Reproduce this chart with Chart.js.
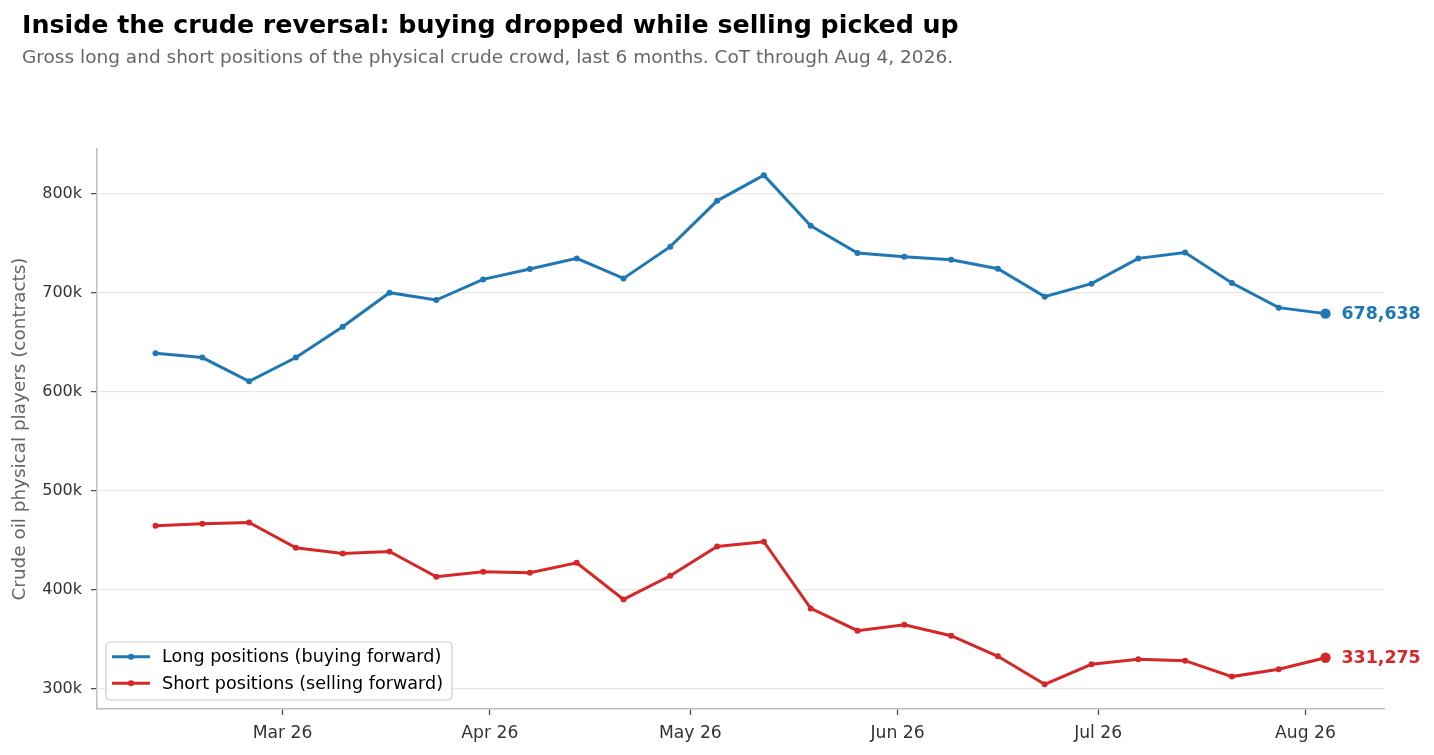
<!DOCTYPE html>
<html lang="en">
<head>
    <meta charset="UTF-8">
    <meta name="viewport" content="width=device-width, initial-scale=1.0">
    <title>Inside the crude reversal</title>
    <script src="https://cdn.jsdelivr.net/npm/chart.js"></script>
    <style>
        html, body { margin: 0; padding: 0; background: #fff; }
        body { width: 1434px; height: 755px; position: relative; overflow: hidden; font-family: "DejaVu Sans", sans-serif; }
        #wrap { position: absolute; left: 0; top: 0; width: 1434px; height: 755px; }
        #title { position: absolute; left: 22px; top: 12px; font-size: 25.3px; line-height: 25px; font-weight: bold; color: #000; white-space: nowrap; z-index: 2; }
        #subtitle { position: absolute; left: 22px; top: 48px; font-size: 18.5px; line-height: 18px; color: #666; white-space: nowrap; z-index: 2; }
    </style>
</head>
<body>
    <div id="title">Inside the crude reversal: buying dropped while selling picked up</div>
    <div id="subtitle">Gross long and short positions of the physical crude crowd, last 6 months. CoT through Aug 4, 2026.</div>
    <div id="wrap"><canvas id="cot-chart"></canvas></div>

    <script>
        // weekly CoT report dates
        const weekDates = ['2026-02-10', '2026-02-17', '2026-02-24', '2026-03-03', '2026-03-10', '2026-03-17',
            '2026-03-24', '2026-03-31', '2026-04-07', '2026-04-14', '2026-04-21', '2026-04-28', '2026-05-05',
            '2026-05-12', '2026-05-19', '2026-05-26', '2026-06-02', '2026-06-09', '2026-06-16', '2026-06-23',
            '2026-06-30', '2026-07-07', '2026-07-14', '2026-07-21', '2026-07-28', '2026-08-04'];

        const longPositions = [638600, 634300, 610400, 634300, 665500, 699800, 692400, 713200, 723700, 734400,
            714200, 746200, 792500, 818400, 767300, 739800, 736100, 733100, 724000, 695800,
            708900, 734400, 740400, 709600, 684700, 678638];

        const shortPositions = [464500, 466500, 467800, 442300, 436600, 438600, 413100, 418100, 417100, 427200,
            390200, 414100, 443600, 448400, 381100, 358700, 364700, 353600, 332800, 304500,
            324700, 329700, 328400, 312300, 319700, 331275];

        const monthTicks = ['2026-03-01', '2026-04-01', '2026-05-01', '2026-06-01', '2026-07-01', '2026-08-01'];
        const monthLabels = ['Mar 26', 'Apr 26', 'May 26', 'Jun 26', 'Jul 26', 'Aug 26'];

        const yTicks = [300000, 400000, 500000, 600000, 700000, 800000];
        const yTickLabels = ['300k', '400k', '500k', '600k', '700k', '800k'];

        const seriesLabels = ['Long positions (buying forward)', 'Short positions (selling forward)'];

        const BLUE = '#1f77b4';
        const RED = '#d62728';
        const FONT = '"DejaVu Sans", sans-serif';

        const dayNum = (s) => Date.parse(s + 'T00:00:00Z') / 86400000;
        const toPoints = (vals) => weekDates.map((d, i) => ({ x: dayNum(d), y: vals[i] }));
        const lastIdx = weekDates.length - 1;

        Chart.defaults.font.family = FONT;

        // legend box drawn inside the plot area, lower left
        const innerLegend = {
            id: 'innerLegend',
            afterDatasetsDraw(chart) {
                const { ctx, chartArea } = chart;
                ctx.save();
                ctx.font = '17.6px ' + FONT;
                const widths = chart.data.datasets.map(ds => ctx.measureText(ds.label).width);
                const bx = chartArea.left + 9;
                const by = chartArea.bottom - 67;
                const bw = 56 + Math.max(...widths) + 9;
                const bh = 58;
                ctx.beginPath();
                ctx.roundRect(bx, by, bw, bh, 4);
                ctx.fillStyle = 'rgba(255,255,255,0.85)';
                ctx.fill();
                ctx.strokeStyle = '#cccccc';
                ctx.lineWidth = 1.2;
                ctx.stroke();
                chart.data.datasets.forEach((ds, i) => {
                    const ry = by + 14.7 + i * 26.6;
                    ctx.strokeStyle = ds.borderColor;
                    ctx.lineWidth = 3;
                    ctx.beginPath();
                    ctx.moveTo(bx + 6, ry);
                    ctx.lineTo(bx + 44, ry);
                    ctx.stroke();
                    ctx.fillStyle = ds.borderColor;
                    ctx.beginPath();
                    ctx.arc(bx + 25, ry, 3, 0, Math.PI * 2);
                    ctx.fill();
                    ctx.fillStyle = '#000';
                    ctx.textBaseline = 'middle';
                    ctx.textAlign = 'left';
                    ctx.fillText(ds.label, bx + 56, ry + 1);
                });
                ctx.restore();
            }
        };

        // value label next to the last point of each series
        const endLabels = {
            id: 'endLabels',
            afterDatasetsDraw(chart) {
                const { ctx } = chart;
                ctx.save();
                ctx.font = 'bold 17.4px ' + FONT;
                ctx.textBaseline = 'middle';
                ctx.textAlign = 'left';
                chart.data.datasets.forEach((ds, i) => {
                    const pt = chart.getDatasetMeta(i).data[lastIdx];
                    ctx.fillStyle = ds.borderColor;
                    ctx.fillText(ds.data[lastIdx].y.toLocaleString('en-US'), pt.x + 16, pt.y + 1);
                });
                ctx.restore();
            }
        };

        const makeSet = (label, vals, color) => ({
            label: label,
            data: toPoints(vals),
            borderColor: color,
            backgroundColor: color,
            borderWidth: 3,
            pointRadius: (c) => c.dataIndex === lastIdx ? 5.2 : 3,
            pointBorderWidth: 0,
            pointBackgroundColor: color,
            tension: 0,
            fill: false
        });

        new Chart(document.getElementById('cot-chart'), {
            type: 'line',
            data: {
                datasets: [
                    makeSet(seriesLabels[0], longPositions, BLUE),
                    makeSet(seriesLabels[1], shortPositions, RED)
                ]
            },
            options: {
                responsive: true,
                maintainAspectRatio: false,
                animation: false,
                layout: { padding: { top: 149, right: 50, left: 0, bottom: 0 } },
                plugins: {
                    legend: { display: false },
                    tooltip: { enabled: false }
                },
                scales: {
                    x: {
                        type: 'linear',
                        min: dayNum(weekDates[0]) - 8.75,
                        max: dayNum(weekDates[lastIdx]) + 8.75,
                        afterBuildTicks: (s) => { s.ticks = monthTicks.map(d => ({ value: dayNum(d) })); },
                        afterFit: (s) => { s.height = 46; },
                        ticks: {
                            autoSkip: false,
                            maxRotation: 0,
                            padding: 8,
                            color: '#333',
                            font: { size: 17.2 },
                            callback: (v, i) => monthLabels[i]
                        },
                        grid: { drawOnChartArea: false, tickLength: 6, tickColor: '#444', tickWidth: 1.2 },
                        border: { color: '#bdbdbd', width: 1.5 }
                    },
                    y: {
                        min: 279600,
                        max: 844800,
                        afterBuildTicks: (s) => { s.ticks = yTicks.map(v => ({ value: v })); },
                        afterFit: (s) => { s.width = 97; },
                        ticks: {
                            padding: 9,
                            color: '#333',
                            font: { size: 16 },
                            callback: (v, i) => yTickLabels[i]
                        },
                        grid: { color: '#e6e6e6', lineWidth: 1.3, tickLength: 6, tickColor: '#444', tickWidth: 1.2 },
                        border: { color: '#bdbdbd', width: 1.5 },
                        title: {
                            display: true,
                            text: 'Crude oil physical players (contracts)',
                            color: '#666',
                            font: { size: 18.4 },
                            padding: { top: 9, bottom: 0 }
                        }
                    }
                }
            },
            plugins: [innerLegend, endLabels]
        });
    </script>
</body>
</html>
